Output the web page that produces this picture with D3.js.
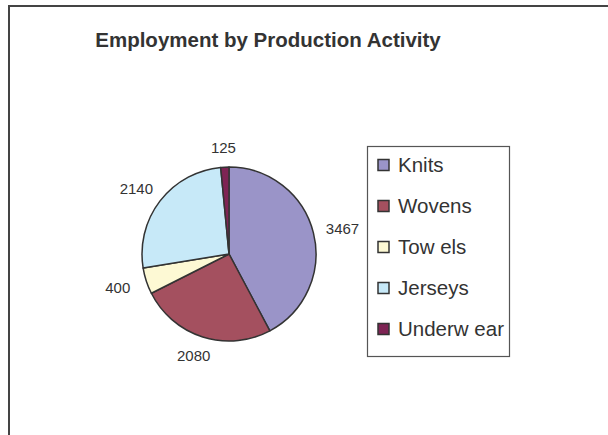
<!DOCTYPE html>
<html>
<head>
<meta charset="utf-8">
<script src="https://cdn.jsdelivr.net/npm/d3@7"></script>
<style>
  body { margin: 0; background: #fff; }
  text { font-family: "Liberation Sans", Arial, sans-serif; fill: #333; }
</style>
</head>
<body>
<div id="chart"></div>
<script>
// data
var categories = ["Knits", "Wovens", "Tow els", "Jerseys", "Underw ear"];
var values = [3467, 2080, 400, 2140, 125];
var colors = ["#9a94c8", "#a4505f", "#fdf9d4", "#c7e9f8", "#7e2454"];

var width = 608, height = 435;

var svg = d3.select("#chart").append("svg")
    .attr("width", width)
    .attr("height", height);

// chart area frame (only top and left edges are in view)
svg.append("path")
    .attr("d", "M9," + height + "V6H" + width)
    .attr("fill", "none")
    .attr("stroke", "#444")
    .attr("stroke-width", 2);

svg.append("text")
    .attr("x", 268)
    .attr("y", 47)
    .attr("text-anchor", "middle")
    .style("font-size", "20.5px")
    .style("font-weight", "bold")
    .text("Employment by Production Activity");

// Pie
var cx = 229, cy = 254, r = 87;

var pie = d3.pie().sort(null).value(function(d) { return d.value; });
var data = categories.map(function(c, i) {
  return { name: c, value: values[i], color: colors[i] };
});
var arcs = pie(data);

var arc = d3.arc().innerRadius(0).outerRadius(r);

// labels sit on a slightly wider ellipse outside the pie
function labelPos(d) {
  var a = (d.startAngle + d.endAngle) / 2;
  return [Math.sin(a) * (r + 30), -Math.cos(a) * (r + 20)];
}

var g = svg.append("g")
    .attr("transform", "translate(" + cx + "," + cy + ")");

g.selectAll(".slice").data(arcs)
  .enter().append("path")
    .attr("class", "slice")
    .attr("d", arc)
    .attr("fill", function(d) { return d.data.color; })
    .attr("stroke", "#333")
    .attr("stroke-width", 1.5)
    .attr("stroke-linejoin", "round");

g.selectAll(".lbl").data(arcs)
  .enter().append("text")
    .attr("class", "lbl")
    .attr("transform", function(d) { return "translate(" + labelPos(d) + ")"; })
    .attr("dy", "0.36em")
    .attr("text-anchor", "middle")
    .style("font-size", "15px")
    .text(function(d) { return d.data.value; });

// Legend
var legend = svg.append("g");

legend.append("rect")
    .attr("x", 367.5)
    .attr("y", 146.5)
    .attr("width", 142)
    .attr("height", 210)
    .attr("fill", "#fff")
    .attr("stroke", "#555")
    .attr("stroke-width", 1.2);

var ly = d3.scalePoint()
    .domain(categories)
    .range([165, 329]);

var items = legend.selectAll(".item").data(data)
  .enter().append("g")
    .attr("class", "item")
    .attr("transform", function(d) { return "translate(0," + ly(d.name) + ")"; });

items.append("rect")
    .attr("x", 378)
    .attr("y", -5.5)
    .attr("width", 11)
    .attr("height", 11)
    .attr("fill", function(d) { return d.color; })
    .attr("stroke", "#333")
    .attr("stroke-width", 1.5);

items.append("text")
    .attr("x", 398)
    .attr("dy", "0.36em")
    .style("font-size", "20.5px")
    .text(function(d) { return d.name; });
</script>
</body>
</html>
